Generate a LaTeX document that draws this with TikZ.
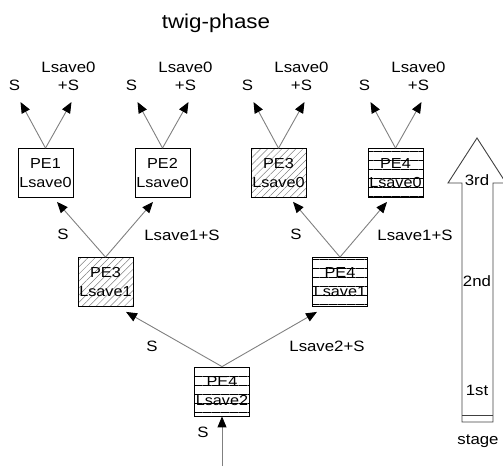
\documentclass[tikz,border=0pt]{standalone}
\usepackage{fontspec}
\setmainfont[FakeStretch=1.12]{Liberation Sans}
\usetikzlibrary{arrows.meta,patterns.meta}
\begin{document}
\begin{tikzpicture}[x=1pt,y=-1pt,
  pebox/.style={draw=black, line width=0.8pt, minimum width=55pt, minimum height=49pt,
    inner sep=0pt, align=center, font=\fontsize{14.5}{19}\selectfont},
  hatchdiag/.style={pattern={Lines[angle=45,distance=5pt,line width=0.5pt]}, pattern color=gray},
  hatchflat/.style={pattern={Lines[angle=0,distance=9pt,line width=0.9pt]}, pattern color=black},
  flow/.style={draw=gray, line width=0.9pt,
    -{Triangle[length=11pt,width=9pt,color=black,fill=black]}},
  lbl/.style={font=\fontsize{15}{18}\selectfont, inner sep=0pt, align=center},
]
\useasboundingbox (0,0) rectangle (503,466);

% title
\node[font=\fontsize{20}{24}\selectfont] (title) at (216,23) {twig-phase};

% first level boxes (leaves)
\node[pebox] (t1) at (45.5,173) {PE1\\Lsave0};
\node[pebox] (t2) at (162.5,173) {PE2\\Lsave0};
\node[pebox,hatchdiag] (t3) at (278.5,173) {PE3\\Lsave0};
\node[pebox,hatchflat] (t4) at (395.5,173) {PE4\\Lsave0};

% second level boxes
\node[pebox,hatchdiag] (m3) at (105.5,282) {PE3\\Lsave1};
\node[pebox,hatchflat] (m4) at (340,282) {PE4\\Lsave1};

% root box
\node[pebox,hatchflat] (b4) at (222,391.5) {PE4\\Lsave2};

% outputs of the leaves
\foreach \n/\cx in {1/45.5,2/162.5,3/278.5,4/395.5}{
  \coordinate (o\n l) at (\cx-25,102);
  \coordinate (o\n r) at (\cx+26,102);
  \draw[flow] (t\n.north) -- (o\n l);
  \draw[flow] (t\n.north) -- (o\n r);
  \node[lbl] (s\n) at (\cx-31,85) {S};
  \node[lbl] (l\n) at (\cx+23,76) {Lsave0\\+S};
}

% second level to leaves
\draw[flow] (m3.north) -- ([xshift=11.5pt,yshift=-4pt]t1.south);
\draw[flow] (m3.north) -- ([xshift=-9.5pt,yshift=-4pt]t2.south);
\draw[flow] (m4.north) -- ([xshift=14.5pt,yshift=-4pt]t3.south);
\draw[flow] (m4.north) -- ([xshift=-8.5pt,yshift=-4pt]t4.south);
\node[lbl] (sa) at (63,234) {S};
\node[lbl] (la) at (182,235) {Lsave1+S};
\node[lbl] (sb) at (296,234) {S};
\node[lbl] (lb) at (415,235) {Lsave1+S};

% root to second level
\draw[flow] (b4.north) -- ([xshift=20.5pt,yshift=-5pt]m3.south);
\draw[flow] (b4.north) -- ([xshift=-23pt,yshift=-5pt]m4.south);
\node[lbl] (sc) at (152,346) {S};
\node[lbl] (lc) at (327,346) {Lsave2+S};

% input of the root
\coordinate (in) at (222,466);
\draw[flow] (in) -- (b4.south);
\node[lbl] (sd) at (203,432) {S};

% stage arrow
\draw[darkgray, line width=0.9pt, line join=miter]
  (462,422) -- (462,183) -- (448,183) -- (477,138) -- (506,183) -- (493,183) -- (493,422) -- cycle;
\draw[darkgray, line width=0.8pt] (462,415) -- (493,415);
\node[lbl] (st3) at (477,180) {3rd};
\node[lbl] (st2) at (477,281) {2nd};
\node[lbl] (st1) at (477,390) {1st};
\node[lbl] (stg) at (478,441) {stage};
\end{tikzpicture}
\end{document}
